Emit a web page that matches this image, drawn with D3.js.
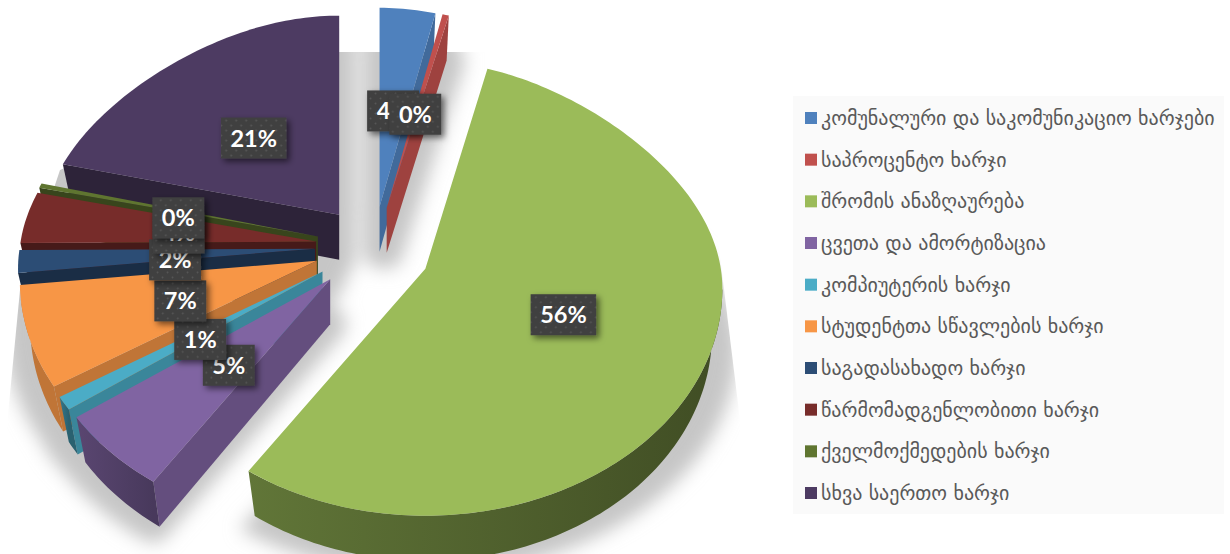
<!DOCTYPE html>
<html>
<head>
<meta charset="utf-8">
<script src="https://cdn.jsdelivr.net/npm/d3@7"></script>
<style>
  html, body { margin: 0; padding: 0; background: #fff; overflow: hidden; }
  text { font-family: "DejaVu Sans", sans-serif; }
</style>
</head>
<body>
<div id="chart"></div>
<script>
const categories = [
    "კომუნალური და საკომუნიკაციო ხარჯები", "საპროცენტო ხარჯი", "შრომის ანაზღაურება",
    "ცვეთა და ამორტიზაცია", "კომპიუტერის ხარჯი", "სტუდენტთა სწავლების ხარჯი",
    "საგადასახადო ხარჯი", "წარმომადგენლობითი ხარჯი", "ქველმოქმედების ხარჯი", "სხვა საერთო ხარჯი"
];
// slice sizes as measured on the drawn pie, the printed percentages come next
const values = [3.6, 0.4, 56.15, 6.15, 1.0, 7.4, 1.6, 3.6, 0.3, 19.8];
const percentLabels = ["4%", "0%", "56%", "5%", "1%", "7%", "2%", "4%", "0%", "21%"];
const colors = ["#4f81bd", "#c0504d", "#9bbb59", "#8064a2", "#4bacc6", "#f79646", "#2c4d75", "#772c2a", "#5f7530", "#4d3b62"];

const width = 1230, height = 554;

// pie geometry, fitted to the tilted 3D view
const center = [373, 250];
const explode = 58;
const rx = 297, ryFar = 219, ryNear = 227, lift = 20, depth = 45;
const farSqueeze = 0.17, bottomSqueeze = 0.035;

const svg = d3.select("#chart").append("svg")
    .attr("width", width)
    .attr("height", height);

const defs = svg.append("defs");

const blur = defs.append("filter").attr("id", "floor-blur")
    .attr("filterUnits", "userSpaceOnUse")
    .attr("x", 0).attr("y", 0).attr("width", width).attr("height", height);
blur.append("feGaussianBlur").attr("stdDeviation", 9);

const labelShadow = defs.append("filter").attr("id", "label-shadow")
    .attr("x", "-30%").attr("y", "-30%").attr("width", "170%").attr("height", "170%");
labelShadow.append("feDropShadow")
    .attr("dx", 3).attr("dy", 3).attr("stdDeviation", 3)
    .attr("flood-color", "#000").attr("flood-opacity", 0.55);

const dots = defs.append("pattern").attr("id", "label-dots")
    .attr("width", 10).attr("height", 10).attr("patternUnits", "userSpaceOnUse");
dots.append("rect").attr("width", 10).attr("height", 10).attr("fill", "#3f3f3f");
dots.append("circle").attr("cx", 2.5).attr("cy", 2.5).attr("r", 1).attr("fill", "#585858");
dots.append("circle").attr("cx", 7.5).attr("cy", 7.5).attr("r", 1).attr("fill", "#585858");

// the floor shadow stops along this outline, as in the original picture
defs.append("clipPath").attr("id", "floor-clip")
    .append("path").attr("d", "M335,52L695,52L740,420L740,554L7,554L7,425L20,290L60,170Z");

const pie = d3.pie().sort(null).value(d => d);
const line = d3.line();

const slices = pie(values).map((d, i) => {
    const mid = (d.startAngle + d.endAngle) / 2;
    return {
        i,
        start: d.startAngle,
        end: d.endAngle,
        mid,
        color: colors[i],
        ry: Math.cos(mid) > 0.5 ? ryFar : ryNear,
        apex: [center[0] + explode * Math.sin(mid), center[1] - explode * 0.75 * Math.cos(mid)]
    };
});

function project(s, a, r, z) {
    const c = Math.cos(a);
    const f = 1 - farSqueeze * (c > 0 ? c * c : 0);
    const below = 1 - bottomSqueeze * z / depth;
    return [
        s.apex[0] + r * rx * Math.sin(a) * f * below,
        s.apex[1] + r * (lift - s.ry * c) + z
    ];
}

function arcAngles(a0, a1) {
    const n = Math.max(2, Math.ceil((a1 - a0) / 0.02));
    return d3.range(n + 1).map(k => a0 + (a1 - a0) * k / n);
}

function topShape(s) {
    return [s.apex].concat(arcAngles(s.start, s.end).map(a => project(s, a, 1, 0)));
}

// floor shadow under the slices
const floor = svg.append("g").attr("clip-path", "url(#floor-clip)");
const floorBlur = floor.append("g").attr("filter", "url(#floor-blur)");
floorBlur.selectAll("path.lower")
    .data(slices)
    .enter().append("path")
    .attr("class", "lower")
    .attr("d", s => {
        const big = s.i === 2;
        const pts = topShape(s).map(p => [
            s.apex[0] + (p[0] - s.apex[0]) * (big ? 1.05 : 1),
            p[1] + (big ? 58 : 45)
        ]);
        return line(pts) + "Z";
    })
    .attr("fill", "#c6c6c6")
    .attr("stroke", "#c6c6c6")
    .attr("stroke-linejoin", "round")
    .attr("stroke-width", s => s.i === 2 ? 0 : 32);
// upper parts of the far slices also throw shadow on the floor behind them
floorBlur.selectAll("path.upper")
    .data(slices.filter(s => s.i !== 2))
    .enter().append("path")
    .attr("class", "upper")
    .attr("d", s => line(topShape(s)) + "Z")
    .attr("fill", "#c6c6c6")
    .attr("stroke", "#c6c6c6")
    .attr("stroke-linejoin", "round")
    .attr("stroke-width", 32);

// far slices first so the near ones sit on top
const order = slices.slice().sort((a, b) => Math.cos(b.mid) - Math.cos(a.mid));

function wallPoints(s, a) {
    return [s.apex, project(s, a, 1, 0), project(s, a, 1, depth), project(s, a, 0, depth)];
}

order.forEach(s => {
    const g = svg.append("g").attr("class", "slice");
    const base = d3.color(s.color);

    // end side wall, only when it turns towards the viewer
    if (Math.cos(s.end + Math.PI / 2) < 0) {
        g.append("path")
            .attr("d", line(wallPoints(s, s.end)) + "Z")
            .attr("fill", base.darker(0.55));
    }
    // start side wall
    if (Math.cos(s.start - Math.PI / 2) < -0.001) {
        g.append("path")
            .attr("d", line(wallPoints(s, s.start)) + "Z")
            .attr("fill", s.i >= 3 && s.i <= 5 ? base.darker(0.7) : base.darker(1.5));
    }
    // outer rim wall, near half only
    const a0 = Math.max(s.start, Math.PI / 2), a1 = Math.min(s.end, 3 * Math.PI / 2 - 0.08);
    if (a1 > a0) {
        const angles = arcAngles(a0, a1);
        const upper = angles.map(a => project(s, a, 1, 0));
        const lower = angles.map(a => project(s, a, 1, depth)).reverse();
        const gradId = "rim-" + s.i;
        const grad = defs.append("linearGradient").attr("id", gradId)
            .attr("gradientUnits", "userSpaceOnUse")
            .attr("x1", d3.min(upper, p => p[0])).attr("x2", d3.max(upper, p => p[0]))
            .attr("y1", 0).attr("y2", 0);
        const dark = s.i === 2 ? [1.3, 2.5] : s.i === 5 ? [0.7, 0.7] : [1.0, 1.6];
        grad.append("stop").attr("offset", "0%").attr("stop-color", base.darker(dark[0]));
        grad.append("stop").attr("offset", "100%").attr("stop-color", base.darker(dark[1]));
        g.append("path")
            .attr("d", line(upper.concat(lower)) + "Z")
            .attr("fill", "url(#" + gradId + ")");
    }
    // top face
    g.append("path")
        .attr("d", line(topShape(s)) + "Z")
        .attr("fill", s.color);
});

// data labels, in series order; most sit a little off the middle radius
const labelRadius = 0.485;
const labelNudge = {
    2: [8, -11], 3: [5, 2], 4: [3, 4], 5: [3, 3],
    6: [4, 5], 7: [3, 3], 8: [-5, 6], 9: [-11, 0]
};
const boxH = 41;
const labels = svg.append("g").selectAll("g")
    .data(slices)
    .enter().append("g")
    .attr("transform", s => {
        const p = project(s, s.mid, labelRadius, 0);
        const n = labelNudge[s.i] || [0, 0];
        return `translate(${p[0] + n[0]},${p[1] + n[1]})`;
    });

const boxes = labels.append("rect")
    .attr("y", -boxH / 2)
    .attr("height", boxH)
    .attr("fill", "url(#label-dots)")
    .attr("filter", "url(#label-shadow)");

const labelText = labels.append("text")
    .attr("text-anchor", "middle")
    .attr("y", 8.5)
    .style("font-family", "Lato, sans-serif")
    .style("font-weight", 700)
    .style("font-size", "23.5px")
    .attr("fill", "#fff")
    .text(s => percentLabels[s.i]);

labelText.each(function (s) { s.textW = this.getComputedTextLength(); });
boxes.attr("x", s => -(s.textW + 19) / 2).attr("width", s => s.textW + 19);

// legend
const legendY = d3.scalePoint().domain(categories).range([118, 493]);

svg.append("rect")
    .attr("x", 793).attr("y", 96)
    .attr("width", 431).attr("height", 418)
    .attr("fill", "#fafafa");

const legend = svg.append("g").selectAll("g")
    .data(categories)
    .enter().append("g")
    .attr("transform", d => `translate(805,${legendY(d)})`);

legend.append("rect")
    .attr("x", 0).attr("y", -6)
    .attr("width", 12).attr("height", 12)
    .attr("fill", (d, i) => colors[i]);

legend.append("text")
    .attr("x", 16).attr("y", 7)
    .style("font-size", "20px")
    .attr("fill", "#595959")
    .text(d => d);
</script>
</body>
</html>
